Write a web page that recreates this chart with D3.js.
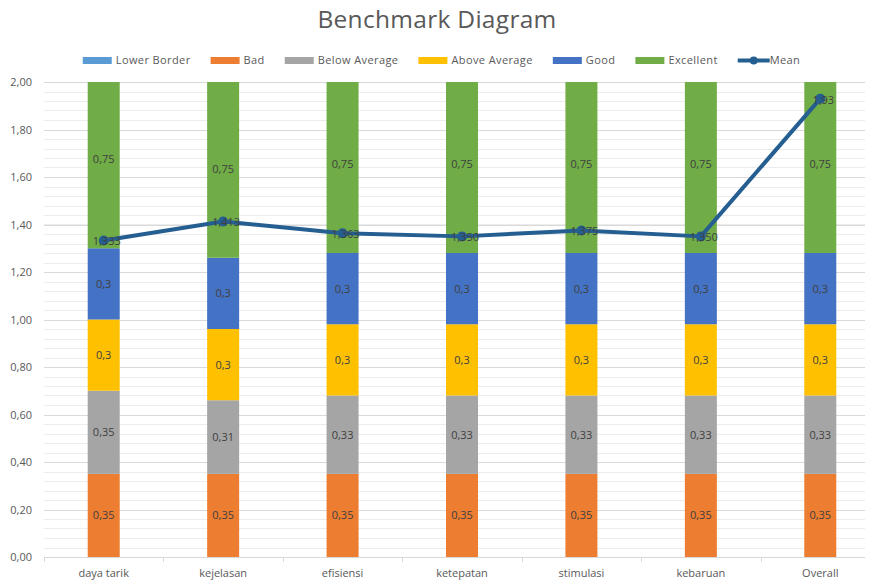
<!DOCTYPE html>
<html>
<head>
<meta charset="utf-8">
<script src="https://cdn.jsdelivr.net/npm/d3@7"></script>
<style>
  body { margin: 0; background: #fff; }
  text { font-family: "Open Sans", "Noto Sans", sans-serif; }
</style>
</head>
<body>
<div id="chart"></div>
<script>
var categories = ["daya tarik", "kejelasan", "efisiensi", "ketepatan", "stimulasi", "kebaruan", "Overall"]
var seriesNames = ["Lower Border", "Bad", "Below Average", "Above Average", "Good", "Excellent"]
var lowerBorder = [0, 0, 0, 0, 0, 0, 0]
var bad = [0.35, 0.35, 0.35, 0.35, 0.35, 0.35, 0.35]
var belowAverage = [0.35, 0.31, 0.33, 0.33, 0.33, 0.33, 0.33]
var aboveAverage = [0.3, 0.3, 0.3, 0.3, 0.3, 0.3, 0.3]
var good = [0.3, 0.3, 0.3, 0.3, 0.3, 0.3, 0.3]
var excellent = [0.75, 0.75, 0.75, 0.75, 0.75, 0.75, 0.75]
var mean = [1.333, 1.413, 1.363, 1.350, 1.375, 1.350, 1.93]
var meanLabels = ["1,333", "1,413", "1,363", "1,350", "1,375", "1,350", "1,93"]
var yTicks = [0, 0.2, 0.4, 0.6, 0.8, 1.0, 1.2, 1.4, 1.6, 1.8, 2.0]

var colors = ["#5B9BD5", "#ED7D31", "#A5A5A5", "#FFC000", "#4472C4", "#70AD47"]
var meanColor = "#255E91"

var width = 872, height = 584
var svg = d3.select("#chart").append("svg").attr("width", width).attr("height", height)

var x = d3.scaleBand().domain(categories).range([44, 880])
var y = d3.scaleLinear().domain([0, 2]).range([557, 82])
var barW = 32
var gridRight = 865

// title
svg.append("text").attr("x", 437).attr("y", 28).attr("text-anchor", "middle")
    .attr("font-size", 24.5).attr("letter-spacing", 0.3).attr("fill", "#595959").text("Benchmark Diagram")

// minor + major gridlines
var minor = d3.range(0, 51).map(function(i){ return i * 0.04 })
svg.append("g").selectAll("line").data(minor).enter().append("line")
    .attr("x1", 44).attr("x2", gridRight)
    .attr("y1", function(d){ return Math.round(y(d)) + 0.5 })
    .attr("y2", function(d){ return Math.round(y(d)) + 0.5 })
    .attr("stroke", "#ececec").attr("stroke-width", 1)
svg.append("g").selectAll("line").data(yTicks).enter().append("line")
    .attr("x1", 44).attr("x2", gridRight)
    .attr("y1", function(d){ return Math.round(y(d)) + 0.5 })
    .attr("y2", function(d){ return Math.round(y(d)) + 0.5 })
    .attr("stroke", "#d9d9d9").attr("stroke-width", 1)

// y tick labels
var fmt2 = function(v){ return d3.format(".2f")(v).replace(".", ",") }
svg.append("g").selectAll("text").data(yTicks).enter().append("text")
    .attr("x", 32).attr("y", function(d){ return y(d) + 4 })
    .attr("text-anchor", "end").attr("font-size", 11).attr("fill", "#595959")
    .text(fmt2)

// stacked bars
var allSeries = [lowerBorder, bad, belowAverage, aboveAverage, good, excellent]
var rows = categories.map(function(c, i){
    var r = { cat: c }
    seriesNames.forEach(function(s, j){ r[s] = allSeries[j][i] })
    return r
})
var stacked = d3.stack().keys(seriesNames)(rows)

svg.append("clipPath").attr("id", "plotclip").append("rect")
    .attr("x", 0).attr("y", y(2)).attr("width", width).attr("height", y(0) - y(2))

var layers = svg.append("g").attr("clip-path", "url(#plotclip)")
    .selectAll("g").data(stacked).enter().append("g")
    .attr("fill", function(d, i){ return colors[i] })
layers.selectAll("rect").data(function(d){ return d }).enter().append("rect")
    .attr("x", function(d){ return x(d.data.cat) + x.bandwidth() / 2 - barW / 2 })
    .attr("width", barW)
    .attr("y", function(d){ return y(d[1]) })
    .attr("height", function(d){ return y(d[0]) - y(d[1]) })

// segment labels
stacked.forEach(function(layer, i){
    if (i === 0) return
    svg.append("g").selectAll("text").data(layer).enter().append("text")
        .attr("x", function(d){ return x(d.data.cat) + x.bandwidth() / 2 })
        .attr("y", function(d){ return y((d[0] + d[1]) / 2) + 4 })
        .attr("text-anchor", "middle").attr("font-size", 11).attr("fill", "#404040")
        .text(function(d){ return String(+(d[1] - d[0]).toFixed(2)).replace(".", ",") })
})

// x axis
svg.append("line").attr("x1", 44).attr("x2", gridRight).attr("y1", y(0) + 0.5).attr("y2", y(0) + 0.5)
    .attr("stroke", "#d9d9d9")
svg.append("g").selectAll("line").data(categories).enter().append("line")
    .attr("x1", function(d){ return Math.round(x(d)) + 0.5 })
    .attr("x2", function(d){ return Math.round(x(d)) + 0.5 })
    .attr("y1", y(0)).attr("y2", y(0) + 5).attr("stroke", "#d9d9d9")
svg.append("g").selectAll("text").data(categories).enter().append("text")
    .attr("x", function(d){ return x(d) + x.bandwidth() / 2 })
    .attr("y", 577).attr("text-anchor", "middle").attr("font-size", 11).attr("fill", "#595959")
    .text(function(d){ return d })

// mean line
var line = d3.line()
    .x(function(d, i){ return x(categories[i]) + x.bandwidth() / 2 })
    .y(function(d){ return y(d) })
svg.append("path").datum(mean).attr("d", line).attr("fill", "none")
    .attr("stroke", meanColor).attr("stroke-width", 4).attr("stroke-linejoin", "round")
svg.append("g").selectAll("circle").data(mean).enter().append("circle")
    .attr("cx", function(d, i){ return x(categories[i]) + x.bandwidth() / 2 })
    .attr("cy", function(d){ return y(d) })
    .attr("r", 5).attr("fill", meanColor)
svg.append("g").selectAll("text").data(mean).enter().append("text")
    .attr("x", function(d, i){ return x(categories[i]) + x.bandwidth() / 2 + 3 })
    .attr("y", function(d){ return y(d) + 5 })
    .attr("text-anchor", "middle").attr("font-size", 11).attr("fill", "#404040")
    .text(function(d, i){ return meanLabels[i] })

// legend
var legendItems = seriesNames.map(function(s, i){ return { name: s, color: colors[i], type: "rect" } })
legendItems.push({ name: "Mean", color: meanColor, type: "line" })
var legend = svg.append("g")
var lx = 0
legendItems.forEach(function(it){
    var g = legend.append("g").attr("transform", "translate(" + lx + ",0)")
    if (it.type === "rect") {
        g.append("rect").attr("x", 0).attr("y", -3).attr("width", 29).attr("height", 7).attr("fill", it.color)
    } else {
        g.append("line").attr("x1", 0).attr("x2", 32).attr("y1", 0.5).attr("y2", 0.5)
            .attr("stroke", it.color).attr("stroke-width", 4)
        g.append("circle").attr("cx", 16).attr("cy", 0.5).attr("r", 4).attr("fill", it.color)
    }
    var t = g.append("text").attr("x", it.type === "rect" ? 33 : 32).attr("y", 4)
        .attr("font-size", 11).attr("letter-spacing", 0.4).attr("fill", "#595959").text(it.name)
    lx += 33 + t.node().getComputedTextLength() + 20
})
var legendW = lx - 20
legend.attr("transform", "translate(" + (437 - legendW / 2 + 5) + ",60)")
</script>
</body>
</html>
